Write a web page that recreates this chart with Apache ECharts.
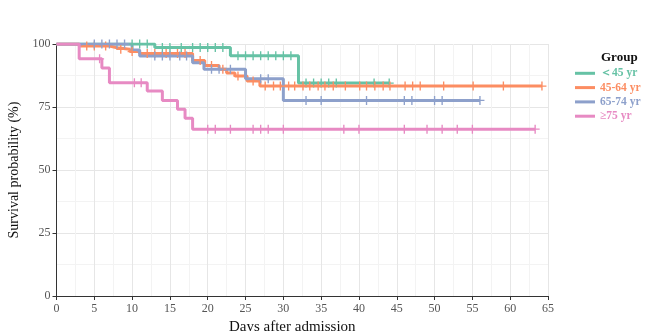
<!DOCTYPE html>
<html>
<head>
<meta charset="utf-8">
<script src="https://cdn.jsdelivr.net/npm/echarts@6/dist/echarts.min.js"></script>
<style>html,body{margin:0;padding:0;background:#fff}#c{width:648px;height:331px}</style>
</head>
<body>
<div id="c"></div>
<script>
// ---- Data ----
const groupNames = ['＜45 yr', '45-64 yr', '65-74 yr', '≥75 yr'];
const groupColors = ['#66C2A5', '#FC8D62', '#8DA0CB', '#E78AC3'];

// <45 yr
const g1Time = [0, 13, 23, 32, 44];
const g1Surv = [100, 98.6, 95.3, 84.5, 84.5];
const g1Cens = [10, 11, 12, 14, 15, 16.5, 18, 19, 20, 21, 22, 24, 25, 26, 27, 28, 29, 30, 31, 33, 34, 35, 36, 37, 42, 44];

// 45-64 yr
const g2Time = [0, 3, 7, 8, 9.7, 11, 18, 19.6, 21.5, 22.5, 23.6, 25.2, 26.9, 64.2];
const g2Surv = [100, 99.2, 98.5, 97.9, 97.0, 96.2, 93.5, 91.5, 90.0, 88.5, 87.3, 85.3, 83.3, 83.3];
const g2Cens = [4, 5, 6.5, 8.5, 10, 12, 13, 14.5, 16, 17, 19, 20.5, 22, 24, 26, 27.6, 28.7, 29.6, 30.7, 31.5, 32.6, 33.5, 34.6, 35.5, 36.6, 38.2, 40.1, 41, 42.1, 43.2, 44.1, 46.1, 47.1, 48.1, 51.2, 55.1, 59.1, 64.2];

// 65-74 yr
const g3Time = [0, 10, 11, 18, 19.5, 25, 30, 56];
const g3Surv = [100, 97.6, 95.2, 92.6, 90.0, 86.2, 77.6, 77.6];
const g3Cens = [5, 6, 7, 8, 9, 13, 14, 15, 16.3, 17.2, 20.5, 21.5, 23, 27, 28, 33, 35, 41, 46, 47, 50, 51, 56];

// >=75 yr
const g4Time = [0, 3, 6, 7, 12, 14, 16, 17, 18, 63.3];
const g4Surv = [100, 94.1, 90.5, 84.6, 81.3, 77.6, 74.1, 70.5, 66.2, 66.2];
const g4Cens = [5.7, 10.3, 11.2, 20, 21, 23, 26, 27, 28, 30, 38, 40, 46, 49, 51, 53, 55, 63.3];

const xTicks = [0, 5, 10, 15, 20, 25, 30, 35, 40, 45, 50, 55, 60, 65];
const yTicks = [0, 25, 50, 75, 100];

// ---- Build ----
const groups = [
  [g1Time, g1Surv, g1Cens],
  [g2Time, g2Surv, g2Cens],
  [g3Time, g3Surv, g3Cens],
  [g4Time, g4Surv, g4Cens]
];
function survAt(times, surv, t) {
  let v = surv[0];
  for (let i = 0; i < times.length; i++) if (times[i] <= t) v = surv[i];
  return v;
}
const plusPath = 'path://M-0.6,-4H0.6V-0.6H4V0.6H0.6V4H-0.6V0.6H-4V-0.6H-0.6Z';
const FONT = '"Liberation Serif", "DejaVu Serif", serif';
const series = [];
groups.forEach((g, i) => {
  series.push({
    name: groupNames[i], type: 'line', step: 'end', showSymbol: false, symbol: 'none',
    data: g[0].map((t, k) => [t, g[1][k]]),
    lineStyle: { color: groupColors[i], width: 3 }, itemStyle: { color: groupColors[i] },
    z: 2 + i, silent: true, animation: false
  });
});
groups.forEach((g, i) => {
  series.push({
    name: groupNames[i] + '_c', type: 'scatter', symbol: plusPath, symbolSize: 9,
    data: g[2].map(t => [t, survAt(g[0], g[1], t)]),
    itemStyle: { color: groupColors[i], opacity: 1 }, z: 6 + i, silent: true, animation: false
  });
});

const chart = echarts.init(document.getElementById('c'), null, { renderer: 'canvas', width: 648, height: 331 });
chart.setOption({
  backgroundColor: '#ffffff',
  animation: false,
  title: { text: 'Group', left: 601, top: 51.5, padding: 0, textStyle: { fontFamily: FONT, fontSize: 13, fontWeight: 'bold', color: '#111' } },
  legend: {
    orient: 'vertical', left: 575, top: 66.3, padding: 0, itemWidth: 20, itemHeight: 3, itemGap: 0.3,
    icon: 'rect',
    data: groupNames.map((n, i) => ({ name: n, textStyle: { color: groupColors[i] } })),
    textStyle: { fontFamily: FONT, fontSize: 11.5, fontWeight: 'bold', lineHeight: 14 }
  },
  grid: { left: 56.5, width: 491.5, top: 44, height: 252, containLabel: false, outerBoundsMode: 'none' },
  xAxis: {
    type: 'value', min: 0, max: 65, interval: 5,
    name: 'Days after admission', nameLocation: 'middle', nameGap: 20,
    nameTextStyle: { fontFamily: FONT, fontSize: 15, color: '#111', padding: [0, 20, 0, 0] },
    axisLine: { show: true, lineStyle: { color: '#333', width: 1 } },
    axisTick: { show: true, length: 4, lineStyle: { color: '#333' } },
    axisLabel: { fontFamily: FONT, fontSize: 12, color: '#555', margin: 7 },
    splitLine: { show: true, lineStyle: { color: '#e6e6e6', width: 1 } },
    minorTick: { show: false, splitNumber: 2 },
    minorSplitLine: { show: true, lineStyle: { color: '#f3f3f3', width: 1 } }
  },
  yAxis: {
    type: 'value', min: 0, max: 100, interval: 25,
    name: 'Survival probability (%)', nameLocation: 'middle', nameGap: 24,
    nameTextStyle: { fontFamily: FONT, fontSize: 14, color: '#111' },
    axisLine: { show: true, lineStyle: { color: '#333', width: 1 } },
    axisTick: { show: true, length: 4, lineStyle: { color: '#333' } },
    axisLabel: { fontFamily: FONT, fontSize: 12, color: '#555', margin: 6 },
    splitLine: { show: true, lineStyle: { color: '#e6e6e6', width: 1 } },
    minorTick: { show: false, splitNumber: 2 },
    minorSplitLine: { show: true, lineStyle: { color: '#f3f3f3', width: 1 } }
  },
  series: series
});
</script>
</body>
</html>
